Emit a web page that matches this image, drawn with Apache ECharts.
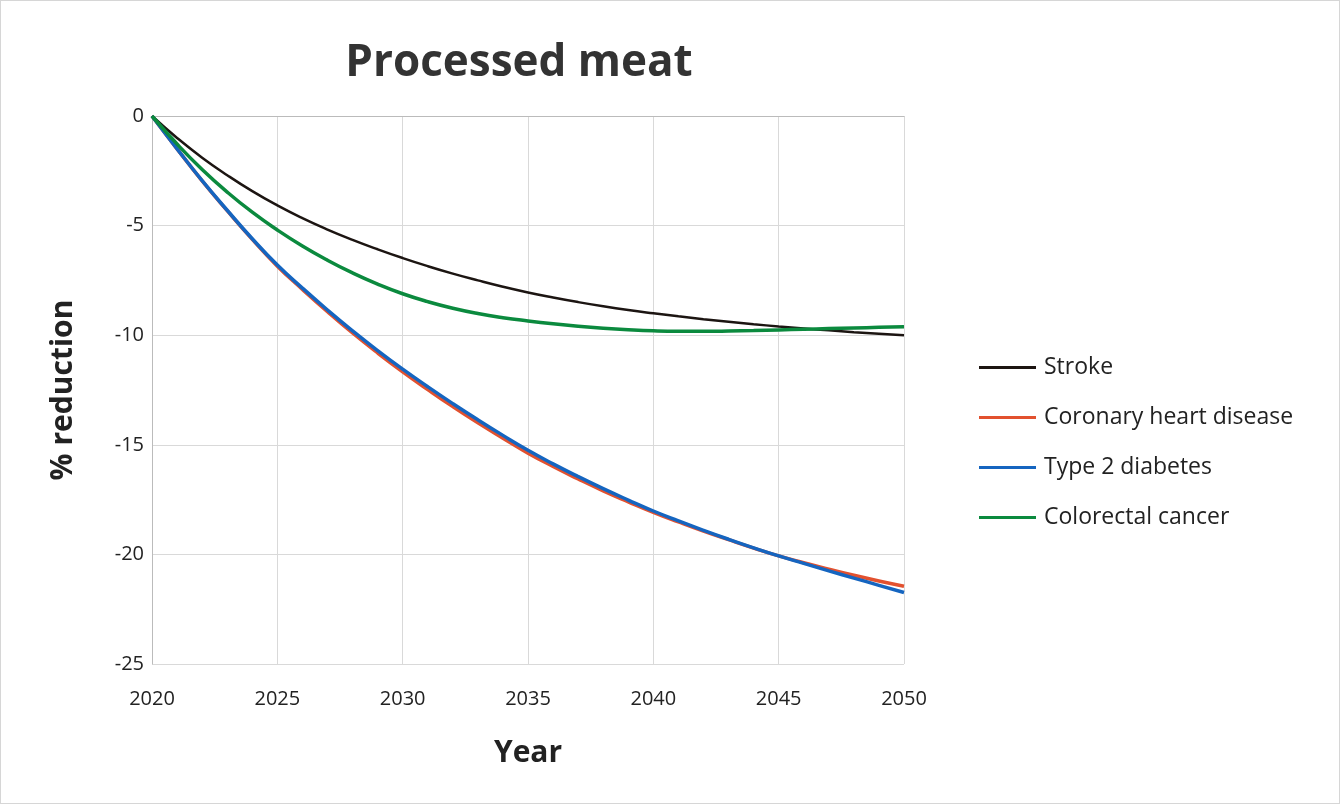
<!DOCTYPE html>
<html>
<head>
<meta charset="utf-8">
<script src="https://cdn.jsdelivr.net/npm/echarts@6/dist/echarts.min.js"></script>
<style>
  html, body { margin: 0; padding: 0; background: #fff; }
  #chart { width: 1338px; height: 802px; border: 1px solid #d6d6d6; }
</style>
</head>
<body>
<div id="chart"></div>
<script>
// values, one per year
var years = [];
for (var y = 2020; y <= 2050; y++) years.push(y);

var stroke = [0, -1.0, -1.9, -2.7, -3.43, -4.08, -4.66, -5.18, -5.65, -6.08, -6.48,
  -6.85, -7.19, -7.5, -7.79, -8.05, -8.28, -8.49, -8.68, -8.85, -9.0,
  -9.14, -9.27, -9.39, -9.5, -9.6, -9.69, -9.78, -9.86, -9.93, -10.0];
var chd = [0, -1.5, -2.96, -4.32, -5.63, -6.85, -7.91, -8.93, -9.9, -10.81, -11.67,
  -12.48, -13.26, -14.0, -14.7, -15.38, -15.99, -16.56, -17.1, -17.6, -18.08,
  -18.52, -18.94, -19.33, -19.71, -20.07, -20.38, -20.67, -20.95, -21.21, -21.45];
var diabetes = [0, -1.5, -2.95, -4.3, -5.6, -6.8, -7.85, -8.85, -9.8, -10.7, -11.55,
  -12.35, -13.12, -13.86, -14.57, -15.25, -15.87, -16.45, -17.0, -17.52, -18.02,
  -18.47, -18.9, -19.31, -19.7, -20.07, -20.41, -20.75, -21.08, -21.41, -21.74];
var colorectal = [0, -1.28, -2.44, -3.47, -4.39, -5.2, -5.93, -6.58, -7.16, -7.67, -8.11,
  -8.47, -8.77, -9.01, -9.2, -9.35, -9.48, -9.59, -9.68, -9.75, -9.8,
  -9.82, -9.82, -9.81, -9.79, -9.76, -9.73, -9.7, -9.67, -9.64, -9.61];

var names = ['Stroke', 'Coronary heart disease', 'Type 2 diabetes', 'Colorectal cancer'];
var colors = ['#1c1512', '#e2512f', '#1565c0', '#0b8a3e'];
var values = [stroke, chd, diabetes, colorectal];

var font = '"Open Sans", sans-serif';

function pairs(arr) {
  return years.map(function(yr, i) { return [yr, arr[i]]; });
}

var chart = echarts.init(document.getElementById('chart'));
chart.setOption({
  animation: false,
  title: {
    text: 'Processed meat',
    left: 513, top: 35, textAlign: 'center',
    textStyle: { fontFamily: font, fontSize: 44, fontWeight: 'bold', color: '#333' }
  },
  grid: { left: 151, right: 435, top: 115, bottom: 139 },
  legend: {
    orient: 'vertical',
    left: 978, top: 355, padding: 0,
    itemWidth: 57, itemHeight: 3, itemGap: 27,
    icon: 'rect',
    textStyle: { fontFamily: font, fontSize: 23, color: '#222', padding: [0, 0, 0, 3] },
    data: names
  },
  xAxis: {
    type: 'value', min: 2020, max: 2050, interval: 5,
    name: 'Year', nameLocation: 'middle', nameGap: 74,
    nameTextStyle: { fontFamily: font, fontSize: 30, fontWeight: 'bold', color: '#222' },
    axisLine: { lineStyle: { color: '#bbb' } },
    axisTick: { show: false },
    axisLabel: { fontFamily: font, fontSize: 20, color: '#222', margin: 25,
      formatter: function(v) { return String(v); } },
    splitLine: { show: true, lineStyle: { color: '#d9d9d9' } }
  },
  yAxis: {
    type: 'value', min: -25, max: 0, interval: 5,
    name: '% reduction', nameLocation: 'middle', nameGap: 74, nameRotate: 90,
    nameTextStyle: { fontFamily: font, fontSize: 30, fontWeight: 'bold', color: '#222' },
    axisLine: { show: true, lineStyle: { color: '#bbb' } },
    axisTick: { show: false },
    axisLabel: { fontFamily: font, fontSize: 20, color: '#222', margin: 8 },
    splitLine: { lineStyle: { color: '#d9d9d9' } }
  },
  series: names.map(function(n, i) {
    return {
      name: n, type: 'line', smooth: true, symbol: 'none',
      data: pairs(values[i]),
      lineStyle: { color: colors[i], width: i === 0 ? 2.5 : 3.5 },
      itemStyle: { color: colors[i] },
      z: [2, 3, 4, 5][i]
    };
  })
});
</script>
</body>
</html>
